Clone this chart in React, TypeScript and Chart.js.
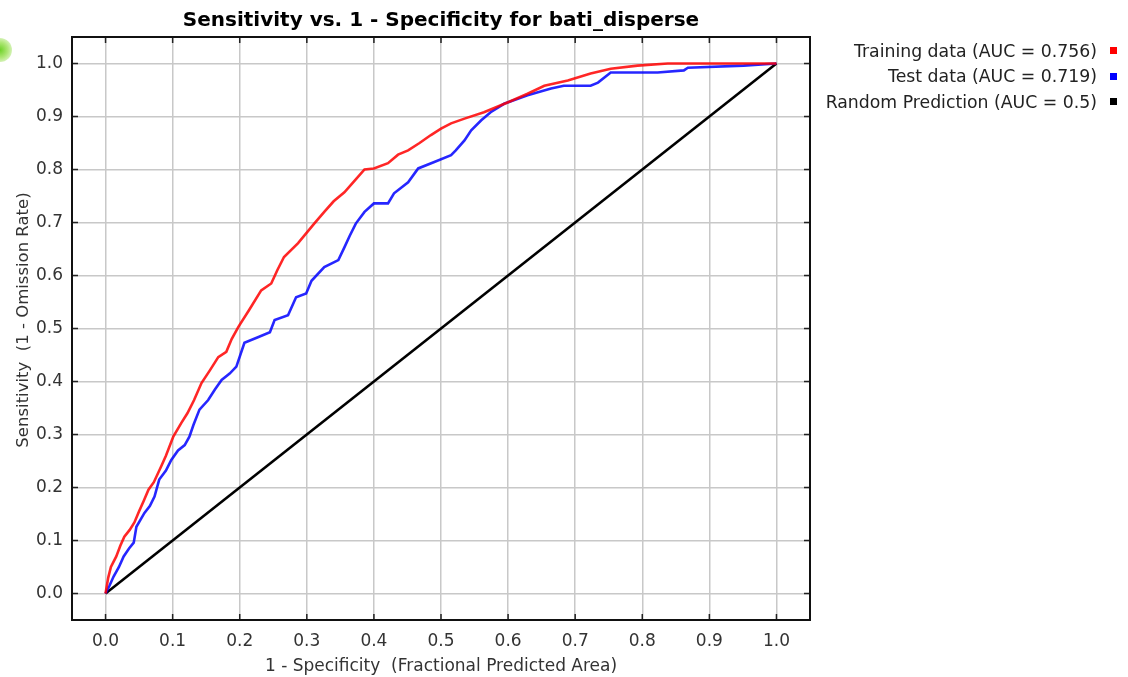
import React, { useEffect, useRef } from "react";
import { Chart, registerables } from "chart.js";

Chart.register(...registerables);

const titleText = "Sensitivity vs. 1 - Specificity for bati_disperse";
const xAxisTitle = "1 - Specificity  (Fractional Predicted Area)";
const yAxisTitle = "Sensitivity  (1 - Omission Rate)";
const tickValues = [0, 0.1, 0.2, 0.3, 0.4, 0.5, 0.6, 0.7, 0.8, 0.9, 1.0];

const trainFpr = [0, 0.004, 0.008, 0.016, 0.022, 0.028, 0.036, 0.043, 0.05, 0.057, 0.064, 0.072, 0.083, 0.09, 0.101, 0.113, 0.122, 0.132, 0.143, 0.155, 0.168, 0.18, 0.188, 0.198, 0.214, 0.232, 0.247, 0.256, 0.266, 0.287, 0.311, 0.326, 0.34, 0.356, 0.372, 0.386, 0.4, 0.421, 0.436, 0.451, 0.468, 0.485, 0.5, 0.515, 0.535, 0.564, 0.6, 0.629, 0.654, 0.689, 0.723, 0.753, 0.793, 0.838, 1.0];
const trainTpr = [0, 0.03, 0.05, 0.07, 0.09, 0.107, 0.12, 0.134, 0.155, 0.175, 0.196, 0.21, 0.24, 0.26, 0.296, 0.322, 0.34, 0.365, 0.397, 0.42, 0.446, 0.456, 0.48, 0.503, 0.535, 0.572, 0.585, 0.61, 0.635, 0.661, 0.698, 0.72, 0.74, 0.757, 0.78, 0.8, 0.802, 0.812, 0.828, 0.836, 0.85, 0.865, 0.877, 0.887, 0.896, 0.908, 0.927, 0.943, 0.958, 0.968, 0.981, 0.99, 0.996, 1.0, 1.0];

const testFpr = [0, 0.006, 0.012, 0.02, 0.027, 0.035, 0.042, 0.046, 0.058, 0.066, 0.073, 0.08, 0.09, 0.098, 0.108, 0.118, 0.125, 0.131, 0.14, 0.153, 0.163, 0.173, 0.185, 0.195, 0.207, 0.228, 0.245, 0.252, 0.272, 0.284, 0.299, 0.307, 0.326, 0.347, 0.356, 0.364, 0.373, 0.386, 0.4, 0.421, 0.43, 0.451, 0.466, 0.49, 0.515, 0.522, 0.535, 0.545, 0.56, 0.574, 0.594, 0.629, 0.664, 0.683, 0.723, 0.734, 0.753, 0.823, 0.862, 0.868, 0.951, 1.0];
const testTpr = [0, 0.015, 0.032, 0.05, 0.07, 0.085, 0.096, 0.126, 0.152, 0.165, 0.183, 0.215, 0.232, 0.252, 0.27, 0.28, 0.296, 0.318, 0.347, 0.365, 0.385, 0.403, 0.415, 0.428, 0.473, 0.484, 0.493, 0.516, 0.525, 0.559, 0.566, 0.59, 0.616, 0.629, 0.653, 0.675, 0.698, 0.72, 0.736, 0.736, 0.755, 0.776, 0.802, 0.814, 0.827, 0.836, 0.855, 0.874, 0.893, 0.908, 0.924, 0.94, 0.953, 0.958, 0.958, 0.964, 0.983, 0.983, 0.987, 0.992, 0.996, 1.0];

const randomFpr = [0, 1];
const randomTpr = [0, 1];

const legendLabels = ["Training data (AUC = 0.756)", "Test data (AUC = 0.719)", "Random Prediction (AUC = 0.5)"];
const legendColors = ["#ff0000", "#0000ff", "#000000"];

const FONT = "'DejaVu Sans', Verdana, sans-serif";

const toPoints = (xs: number[], ys: number[]) => xs.map((x, i) => ({ x, y: ys[i] }));

const framePlugin = {
  id: "frame",
  beforeDatasetsDraw(chart: any) {
    const { ctx, chartArea } = chart;
    const { left, right, top, bottom } = chartArea;
    const xs = chart.scales.x;
    const ys = chart.scales.y;
    ctx.save();
    ctx.strokeStyle = "#222";
    ctx.lineWidth = 1.5;
    const len = 6;
    ctx.beginPath();
    tickValues.forEach((v) => {
      const px = xs.getPixelForValue(v);
      ctx.moveTo(px, top);
      ctx.lineTo(px, top + len);
      ctx.moveTo(px, bottom);
      ctx.lineTo(px, bottom - len);
      const py = ys.getPixelForValue(v);
      ctx.moveTo(left, py);
      ctx.lineTo(left + len, py);
      ctx.moveTo(right, py);
      ctx.lineTo(right - len, py);
    });
    ctx.stroke();
    ctx.restore();
  },
  afterDraw(chart: any) {
    const { ctx, chartArea } = chart;
    const { left, right, top, bottom } = chartArea;
    ctx.save();
    ctx.strokeStyle = "#111";
    ctx.lineWidth = 2;
    ctx.strokeRect(left, top, right - left, bottom - top);
    // y axis title
    ctx.translate(24, 320);
    ctx.rotate(-Math.PI / 2);
    ctx.fillStyle = "#333";
    ctx.font = `16.5px ${FONT}`;
    ctx.textAlign = "center";
    ctx.textBaseline = "middle";
    ctx.fillText(yAxisTitle, 0, 0);
    ctx.restore();
  },
};

export default function App() {
  const ref = useRef<HTMLCanvasElement | null>(null);

  useEffect(() => {
    if (!ref.current) return;
    const setTicks = (axis: any) => {
      axis.ticks = tickValues.map((v) => ({ value: v }));
    };
    const chart = new Chart(ref.current, {
      type: "scatter",
      data: {
        datasets: [
          {
            label: legendLabels[0],
            data: toPoints(trainFpr, trainTpr),
            showLine: true,
            borderColor: "rgba(255,0,0,0.85)",
            backgroundColor: "rgba(255,0,0,0.85)",
            borderWidth: 2.6,
            pointRadius: 0,
            order: 0,
          },
          {
            label: legendLabels[1],
            data: toPoints(testFpr, testTpr),
            showLine: true,
            borderColor: "rgba(0,0,255,0.85)",
            backgroundColor: "rgba(0,0,255,0.85)",
            borderWidth: 2.6,
            pointRadius: 0,
            order: 1,
          },
          {
            label: legendLabels[2],
            data: toPoints(randomFpr, randomTpr),
            showLine: true,
            borderColor: "#000000",
            backgroundColor: "#000000",
            borderWidth: 2.6,
            pointRadius: 0,
            order: 2,
          },
        ],
      },
      options: {
        animation: false,
        responsive: false,
        devicePixelRatio: 1,
        layout: { padding: { left: 0, right: 318, top: 0, bottom: 0 } },
        plugins: {
          legend: { display: false },
          tooltip: { enabled: false },
          title: {
            display: true,
            text: titleText,
            fullSize: false,
            color: "#000",
            font: { family: FONT, size: 20, weight: "bold", lineHeight: 1.2 },
            padding: { top: 8.5, bottom: 4.5 },
          },
        },
        scales: {
          x: {
            type: "linear",
            min: -0.05,
            max: 1.05,
            afterBuildTicks: setTicks,
            afterFit: (s: any) => {
              s.height = 57;
            },
            grid: { color: "#c8c8c8", lineWidth: 1.5, drawTicks: false },
            border: { display: false },
            ticks: {
              color: "#333",
              padding: 11,
              font: { family: FONT, size: 17 },
              callback: (v: any) => Number(v).toFixed(1),
            },
            title: {
              display: true,
              text: xAxisTitle,
              color: "#333",
              font: { family: FONT, size: 17 },
              padding: { top: 0, bottom: 0 },
            },
          },
          y: {
            type: "linear",
            min: -0.05,
            max: 1.05,
            afterBuildTicks: setTicks,
            afterFit: (s: any) => {
              s.width = 72;
            },
            grid: { color: "#c8c8c8", lineWidth: 1.5, drawTicks: false },
            border: { display: false },
            ticks: {
              color: "#333",
              padding: 9,
              font: { family: FONT, size: 17 },
              callback: (v: any) => Number(v).toFixed(1),
            },
            title: { display: false },
          },
        },
      },
      plugins: [framePlugin],
    } as any);
    return () => chart.destroy();
  }, []);

  return (
    <div style={{ position: "fixed", left: 0, top: 0, width: 1128, height: 677, background: "#fff", overflow: "hidden" }}>
      <canvas ref={ref} width={1128} height={677} style={{ position: "absolute", left: 0, top: 0 }} />
      <div
        style={{
          position: "absolute",
          left: -12,
          top: 38,
          width: 24,
          height: 24,
          borderRadius: "50%",
          background: "radial-gradient(circle, rgba(110,210,40,1) 0%, rgba(140,220,60,0.7) 45%, rgba(200,240,160,0) 100%)",
        }}
      />
      <div style={{ position: "absolute", right: 11, top: 38, fontFamily: FONT, fontSize: 17.3, color: "#222" }}>
        {legendLabels.map((l, i) => (
          <div key={l} style={{ display: "flex", alignItems: "center", justifyContent: "flex-end", height: 25.5, whiteSpace: "nowrap" }}>
            <span>{l}</span>
            <span style={{ display: "inline-block", width: 7, height: 7, background: legendColors[i], marginLeft: 13 }} />
          </div>
        ))}
      </div>
    </div>
  );
}
